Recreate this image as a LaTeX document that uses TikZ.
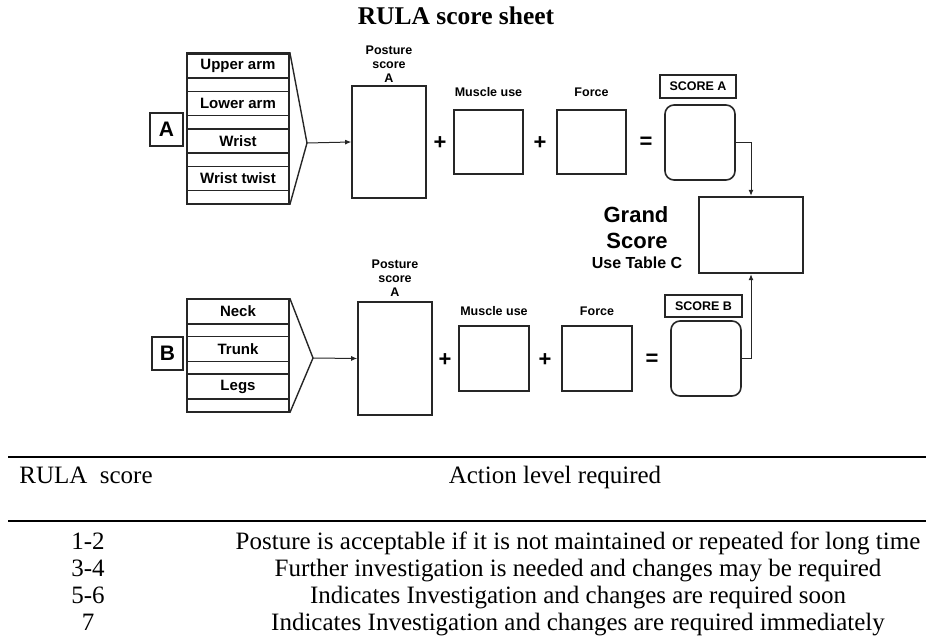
\documentclass[tikz,border=0pt]{standalone}
\usepackage{fontspec}
\setmainfont{Liberation Serif}
\setsansfont{Liberation Sans}
\usetikzlibrary{arrows.meta}
\tikzset{
  box/.style={draw=black!85, line width=1.6pt, inner sep=0pt},
  item/.style={draw=black!85, line width=1.4pt, minimum width=102pt, minimum height=24pt, inner sep=0pt, font=\sffamily\bfseries\fontsize{15}{15}\selectfont},
  lbl/.style={font=\sffamily\bfseries\fontsize{12.5}{14}\selectfont, align=center, inner sep=0pt},
  op/.style={font=\sffamily\bfseries\fontsize{22}{22}\selectfont, inner sep=0pt},
  conn/.style={draw=black!85, line width=1pt, -{Latex[length=6pt,width=5pt]}},
  cell/.style={font=\fontsize{25}{27}\selectfont, inner sep=0pt, anchor=base},
}
\begin{document}
\begin{tikzpicture}[x=1pt,y=-1pt]
  \useasboundingbox (0,0) rectangle (926,642);
  \node[font=\bfseries\fontsize{25.5}{25}\selectfont, anchor=base] (title) at (456,25) {RULA score sheet};

  % upper part: score A
  \node[box, minimum width=102pt, minimum height=151pt] (stackA) at (238,128.5) {};
  \foreach \t [count=\i] in {Upper arm,Lower arm,Wrist,Wrist twist}
    \node[item] (a\i) at (238,{66+37.5*(\i-1)}) {\t};
  \node[box, minimum width=33pt, minimum height=33pt, font=\sffamily\bfseries\fontsize{21}{21}\selectfont] (lblA) at (166.5,129.5) {A};
  \coordinate (tipA) at (307,143);
  \draw[black!85, line width=1.4pt] (stackA.north east) -- (tipA) -- (stackA.south east);
  \node[box, minimum width=74pt, minimum height=112pt] (postA) at (389,142) {};
  \node[lbl] (postAlbl) at (389,64) {Posture\\score\\A};
  \draw[conn] (tipA) -- (postA.west);
  \node[op] (plusA1) at (440,143) {+};
  \node[box, minimum width=69pt, minimum height=64pt] (muscA) at (488.5,142) {};
  \node[lbl] (muscAlbl) at (488.5,92) {Muscle use};
  \node[op] (plusA2) at (540,143) {+};
  \node[box, minimum width=69pt, minimum height=64pt] (forceA) at (591.5,142) {};
  \node[lbl] (forceAlbl) at (591.5,92) {Force};
  \node[op] (eqA) at (646,143) {=};
  \node[box, rounded corners=9pt, minimum width=70pt, minimum height=75pt] (scoreA) at (700,142.5) {};
  \node[box, line width=1.3pt, minimum width=76pt, minimum height=23pt, font=\sffamily\bfseries\fontsize{12.5}{12}\selectfont] (scoreAlbl) at (698,86.5) {SCORE A};

  % grand score
  \node[box, line width=2.4pt, minimum width=104pt, minimum height=76pt] (grand) at (751,235) {};
  \node[font=\sffamily\bfseries\fontsize{22}{22}\selectfont, anchor=base, inner sep=0pt] (grand1) at (636,222) {Grand};
  \node[font=\sffamily\bfseries\fontsize{22}{22}\selectfont, anchor=base, inner sep=0pt] (grand2) at (637,248) {Score};
  \node[font=\sffamily\bfseries\fontsize{16}{16}\selectfont, anchor=base, inner sep=0pt] (grand3) at (637,268) {Use Table C};

  % lower part: score B
  \node[box, minimum width=102pt, minimum height=113pt] (stackB) at (238,355.5) {};
  \foreach \t [count=\i] in {Neck,Trunk,Legs}
    \node[item, minimum height=25pt] (b\i) at (238,{311.5+37.5*(\i-1)}) {\t};
  \node[box, minimum width=31pt, minimum height=33pt, font=\sffamily\bfseries\fontsize{21}{21}\selectfont] (lblB) at (167.5,353.5) {B};
  \coordinate (tipB) at (313,358);
  \draw[black!85, line width=1.4pt] (stackB.north east) -- (tipB) -- (stackB.south east);
  \node[box, minimum width=74pt, minimum height=113pt] (postB) at (395,358.5) {};
  \node[lbl] (postBlbl) at (395,278) {Posture\\score\\A};
  \draw[conn] (tipB) -- (postB.west);
  \node[op] (plusB1) at (445,360) {+};
  \node[box, minimum width=70pt, minimum height=65pt] (muscB) at (494,358.5) {};
  \node[lbl] (muscBlbl) at (494,311) {Muscle use};
  \node[op] (plusB2) at (545,360) {+};
  \node[box, minimum width=70pt, minimum height=65pt] (forceB) at (597,358.5) {};
  \node[lbl] (forceBlbl) at (597,311) {Force};
  \node[op] (eqB) at (652,360) {=};
  \node[box, rounded corners=9pt, minimum width=70pt, minimum height=75pt] (scoreB) at (706,358.5) {};
  \node[box, line width=1.3pt, minimum width=77pt, minimum height=22pt, font=\sffamily\bfseries\fontsize{12.5}{12}\selectfont] (scoreBlbl) at (703.5,306) {SCORE B};

  \draw[conn] (scoreA.east) -| (grand.north);
  \draw[conn] (scoreB.east) -| (grand.south);

  % action level table
  \draw[line width=2pt] (8,457) -- (926,457);
  \draw[line width=2pt] (8,521) -- (926,521);
  \node[cell] (head1) at (86,483) {RULA\ \ score};
  \node[cell] (head2) at (555,483) {Action level required};
  \foreach \s/\t [count=\i] in {1-2/Posture is acceptable if it is not maintained or repeated for long time,
      3-4/Further investigation is needed and changes may be required,
      5-6/Indicates Investigation and changes are required soon,
      7/Indicates Investigation and changes are required immediately} {
    \node[cell] (sc\i) at (88,{522+27*\i}) {\s};
    \node[cell] (act\i) at (578,{522+27*\i}) {\t};
  }
\end{tikzpicture}
\end{document}
